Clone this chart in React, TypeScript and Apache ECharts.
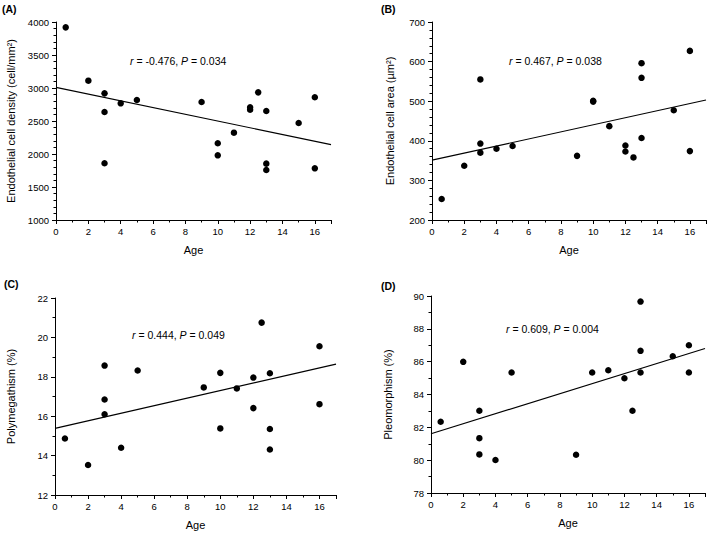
import React, { useEffect, useRef } from "react";
import * as echarts from "echarts";

// ---- data ----
const agesAB = [0.6, 2, 3, 3, 3, 4, 5, 9, 10, 10, 11, 12, 12, 12.5, 13, 13, 13, 15, 16, 16];
const densityA = [3919, 3111, 2919, 2636, 1859, 2768, 2818, 2788, 2162, 1980, 2323, 2707, 2670, 2934, 2652, 1854, 1758, 2470, 2859, 1783];
const areaB = [253, 337, 555, 393, 370, 380, 387, 362, 501, 499, 437, 388, 373, 358, 596, 559, 407, 477, 627, 374];
const agesC = [0.6, 2, 3, 3, 3, 4, 5, 9, 10, 10, 11, 12, 12, 12.5, 13, 13, 13, 16, 16];
const polyC = [14.87, 13.52, 18.57, 16.85, 16.1, 14.4, 18.32, 17.46, 18.2, 15.38, 17.41, 17.96, 16.41, 20.75, 18.18, 15.35, 14.31, 19.55, 16.61];
const agesD = [0.6, 2, 3, 3, 3, 4, 5, 9, 10, 11, 12, 12.5, 13, 13, 13, 15, 16, 16];
const pleoD = [82.34, 85.99, 83.01, 81.34, 80.35, 80.01, 85.34, 80.33, 85.34, 85.48, 84.99, 83.01, 89.66, 86.66, 85.34, 86.33, 87.0, 85.34];
const fitA = [[0, 3010], [17, 2142]];
const fitB = [[0, 351], [17, 503]];
const fitC = [[0, 15.38], [17, 18.64]];
const fitD = [[0, 81.61], [17, 86.8]];
const yNames = [
  "Endothelial cell density (cell/mm²)",
  "Endothelial cell area (µm²)",
  "Polymegathism (%)",
  "Pleomorphism (%)",
];
const yRanges = [
  [1000, 4000, 500],
  [200, 700, 100],
  [12, 22, 2],
  [78, 90, 2],
];
const panelLabels = ["(A)", "(B)", "(C)", "(D)"];
const stats = [
  ["-0.476", "0.034"],
  ["0.467", "0.038"],
  ["0.444", "0.049"],
  ["0.609", "0.004"],
];

const FONT = "'Liberation Sans', Arial, sans-serif";

export default function App() {
  const ref = useRef<HTMLDivElement>(null);
  useEffect(() => {
    if (!ref.current) return;
    const chart = echarts.init(ref.current, null, { renderer: "svg" });
    const grids = [
      { left: 56, top: 22, width: 275, height: 198 },
      { left: 432, top: 22, width: 274, height: 198 },
      { left: 55, top: 298, width: 281, height: 197 },
      { left: 431, top: 296, width: 274, height: 197 },
    ];
    const nameGaps = [40, 37, 39, 38];
    const scatterData = [
      agesAB.map((a, i) => [a, densityA[i]]),
      agesAB.map((a, i) => [a, areaB[i]]),
      agesC.map((a, i) => [a, polyC[i]]),
      agesD.map((a, i) => [a, pleoD[i]]),
    ];
    const fits = [fitA, fitB, fitC, fitD];
    const axisLine = { show: true, onZero: false, lineStyle: { color: "#000", width: 1 } };
    const xAxis = grids.map((_, i) => ({
      type: "value",
      gridIndex: i,
      min: 0,
      max: 17,
      interval: 2,
      name: "Age",
      nameLocation: "middle",
      nameGap: 24,
      nameTextStyle: { fontFamily: FONT, fontSize: 11, color: "#000" },
      axisLine,
      axisTick: { show: true, inside: false, length: 4, lineStyle: { color: "#000" } },
      minorTick: { show: true, splitNumber: 2, length: 2.5, lineStyle: { color: "#000" } },
      axisLabel: { fontFamily: FONT, fontSize: 9.5, color: "#000", margin: 6, showMaxLabel: false },
      splitLine: { show: false },
    }));
    const yAxis = grids.map((_, i) => ({
      type: "value",
      gridIndex: i,
      min: yRanges[i][0],
      max: yRanges[i][1],
      interval: yRanges[i][2],
      name: yNames[i],
      nameLocation: "middle",
      nameGap: nameGaps[i],
      nameRotate: 90,
      nameTextStyle: { fontFamily: FONT, fontSize: 11, color: "#000" },
      axisLine,
      axisTick: { show: true, inside: false, length: 4, lineStyle: { color: "#000" } },
      minorTick: { show: true, splitNumber: i < 2 ? 5 : 2, length: 2.5, lineStyle: { color: "#000" } },
      axisLabel: {
        fontFamily: FONT,
        fontSize: 9.5,
        color: "#000",
        margin: 7,
        formatter: (v: number) => String(v),
      },
      splitLine: { show: false },
    }));
    const series: any[] = [];
    grids.forEach((_, i) => {
      series.push({
        type: "line",
        xAxisIndex: i,
        yAxisIndex: i,
        data: fits[i],
        symbol: "none",
        lineStyle: { color: "#000", width: 1.2 },
        silent: true,
      });
      series.push({
        type: "scatter",
        xAxisIndex: i,
        yAxisIndex: i,
        data: scatterData[i],
        symbol: "circle",
        symbolSize: 6.5,
        itemStyle: { color: "#000", opacity: 1 },
      });
    });
    const labelPos = [
      [2, 3],
      [381, 3],
      [4, 278],
      [381, 280],
    ];
    const statPos = [
      [130, 55],
      [509, 55],
      [132, 329],
      [506, 323],
    ];
    const graphic: any[] = [];
    grids.forEach((_, i) => {
      graphic.push({
        type: "text",
        left: labelPos[i][0],
        top: labelPos[i][1],
        style: { text: panelLabels[i], fontFamily: FONT, fontSize: 10.5, fontWeight: "bold", fill: "#000" },
      });
      graphic.push({
        type: "text",
        left: statPos[i][0],
        top: statPos[i][1],
        style: {
          text: `{i|r} = ${stats[i][0]}, {i|P} = ${stats[i][1]}`,
          fontFamily: FONT,
          fontSize: 10.5,
          fill: "#000",
          rich: { i: { fontStyle: "italic", fontFamily: FONT, fontSize: 10.5, fill: "#000" } },
        },
      });
    });
    chart.setOption({
      animation: false,
      backgroundColor: "#fff",
      grid: grids,
      xAxis,
      yAxis,
      series,
      graphic,
    });
    return () => chart.dispose();
  }, []);
  return (
    <div
      ref={ref}
      style={{ position: "absolute", left: 0, top: 0, width: 709, height: 534, background: "#fff" }}
    />
  );
}
